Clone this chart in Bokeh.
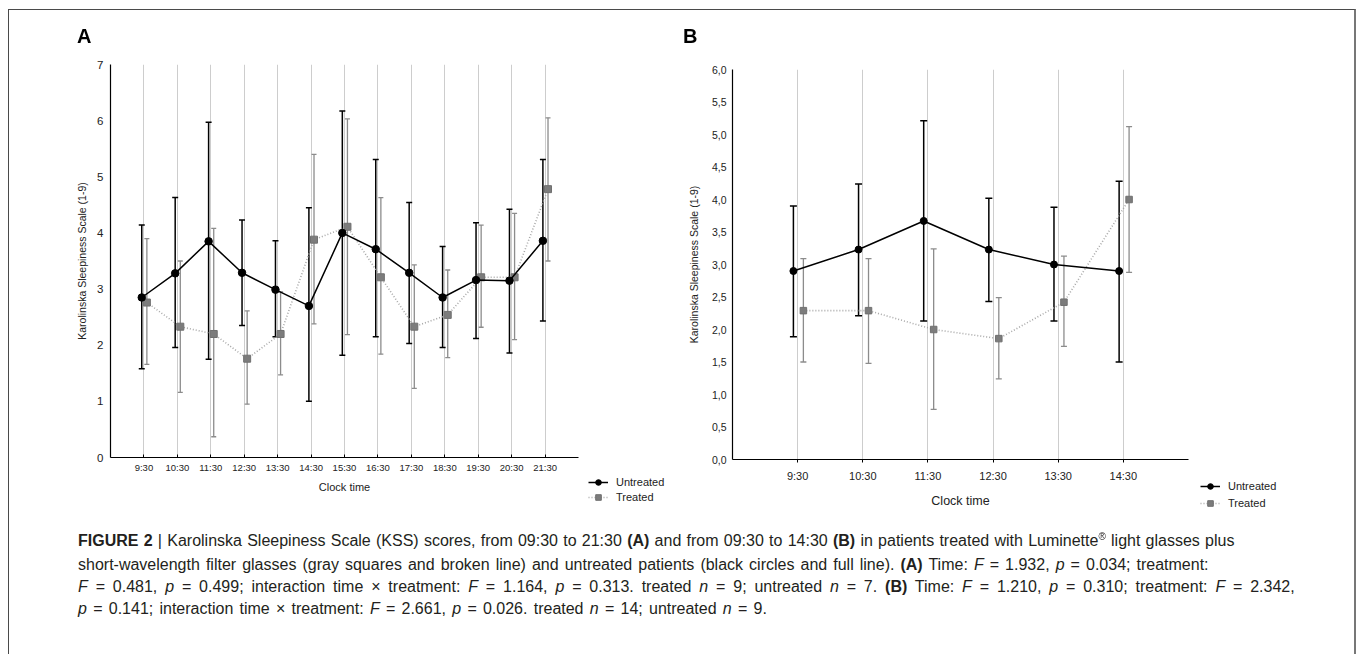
import numpy as np
from bokeh.plotting import figure
from bokeh.models import (ColumnDataSource, Whisker, TeeHead, Range1d, FixedTicker,
                          Legend, LegendItem, CustomJSTickFormatter, Div, Spacer)
from bokeh.layouts import column, row
from bokeh.embed import file_html
from bokeh.resources import INLINE

# ---------------- data ----------------
times_a = ["9:30", "10:30", "11:30", "12:30", "13:30", "14:30", "15:30",
           "16:30", "17:30", "18:30", "19:30", "20:30", "21:30"]
untreated_a = [2.85, 3.28, 3.85, 3.29, 2.99, 2.70, 4.00, 3.71, 3.29, 2.85, 3.16, 3.15, 3.86]
untreated_a_hi = [4.14, 4.63, 5.97, 4.23, 3.86, 4.45, 6.17, 5.31, 4.54, 3.76, 4.18, 4.42, 5.31]
untreated_a_lo = [1.58, 1.96, 1.75, 2.35, 2.15, 1.00, 1.82, 2.15, 2.03, 1.96, 2.12, 1.86, 2.43]
treated_a = [2.76, 2.33, 2.20, 1.76, 2.20, 3.88, 4.11, 3.21, 2.33, 2.54, 3.21, 3.21, 4.78]
treated_a_hi = [3.90, 3.50, 4.08, 2.61, 2.95, 5.40, 6.03, 4.63, 3.43, 3.34, 4.14, 4.35, 6.05]
treated_a_lo = [1.66, 1.16, 0.37, 0.95, 1.47, 2.38, 2.19, 1.84, 1.23, 1.78, 2.32, 2.10, 3.50]
yticks_a = [0, 1, 2, 3, 4, 5, 6, 7]

times_b = ["9:30", "10:30", "11:30", "12:30", "13:30", "14:30"]
untreated_b = [2.90, 3.23, 3.67, 3.23, 3.00, 2.90]
untreated_b_hi = [3.90, 4.24, 5.21, 4.02, 3.88, 4.28]
untreated_b_lo = [1.89, 2.21, 2.13, 2.43, 2.13, 1.50]
treated_b = [2.29, 2.29, 2.00, 1.86, 2.42, 4.00]
treated_b_hi = [3.09, 3.09, 3.24, 2.49, 3.13, 5.12]
treated_b_lo = [1.50, 1.48, 0.77, 1.24, 1.74, 2.88]
yticks_b = [0.0, 0.5, 1.0, 1.5, 2.0, 2.5, 3.0, 3.5, 4.0, 4.5, 5.0, 5.5, 6.0]

y_label = "Karolinska Sleepiness Scale (1-9)"
x_label = "Clock time"
series_names = ["Untreated", "Treated"]
panel_letters = ["A", "B"]

FONT = "Liberation Sans"
TXT = "#222222"
GRAY_BAR = "#8c8c8c"
U_LINE = dict(line_color="black", line_width=1.5)
T_LINE = dict(line_color="#a8a8a8", line_width=1.6, line_dash="1 2")
U_DOT = dict(marker="circle", fill_color="black", line_color="black")
T_SQ = dict(marker="square", fill_color="#7c7c7c", line_color="#707070")


def make_panel(times, um, uhi, ulo, tm, thi, tlo, yticks, ymax, cfg):
    n = len(times)
    idx = np.arange(1, n + 1)
    p = figure(width=cfg["w"], height=510, output_backend="svg", toolbar_location=None,
               x_range=Range1d(0, n + 1), y_range=Range1d(0, ymax),
               min_border_left=cfg["bl"], min_border_right=cfg["br"],
               min_border_top=cfg["bt"], min_border_bottom=cfg["bb"])
    p.frame_align = False
    p.outline_line_color = None
    p.background_fill_color = "white"
    p.border_fill_color = "white"
    p.ygrid.visible = False
    xt = FixedTicker(ticks=[int(i) for i in idx])
    p.xgrid.ticker = xt
    p.xgrid.grid_line_color = "#cdcdcd"
    p.xgrid.grid_line_width = 1

    xa = p.xaxis[0]
    xa.ticker = xt
    xa.major_label_overrides = {int(i): t for i, t in zip(idx, times)}
    xa.minor_tick_line_color = None
    xa.major_tick_in = cfg["xtin"]
    xa.major_tick_out = cfg["xtout"]
    xa.axis_line_color = "black"
    xa.axis_line_width = 1.2
    xa.major_label_text_font = FONT
    xa.major_label_text_font_size = cfg["xtick_fs"]
    xa.major_label_text_color = TXT
    xa.major_label_standoff = cfg["xstand"]
    xa.axis_label = x_label
    xa.axis_label_text_font = FONT
    xa.axis_label_text_font_size = cfg["xlab_fs"]
    xa.axis_label_text_font_style = "normal"
    xa.axis_label_text_color = TXT
    xa.axis_label_standoff = cfg["xlabstand"]

    ya = p.yaxis[0]
    ya.ticker = FixedTicker(ticks=yticks)
    ya.minor_tick_line_color = None
    ya.major_tick_in = 0
    ya.major_tick_out = 0
    ya.axis_line_color = "black"
    ya.axis_line_width = 1.2
    ya.major_label_text_font = FONT
    ya.major_label_text_font_size = cfg["ytick_fs"]
    ya.major_label_text_color = TXT
    ya.major_label_standoff = cfg["ystand"]
    if cfg["comma"]:
        ya.formatter = CustomJSTickFormatter(code="return tick.toFixed(1).replace('.', ',');")
    ya.axis_label = y_label
    ya.axis_label_text_font = FONT
    ya.axis_label_text_font_size = cfg["ylab_fs"]
    ya.axis_label_text_font_style = "normal"
    ya.axis_label_text_color = TXT
    ya.axis_label_standoff = cfg["ylabstand"]

    src_u = ColumnDataSource(dict(x=idx - 0.065, m=um, hi=uhi, lo=ulo))
    src_t = ColumnDataSource(dict(x=idx + 0.088, m=tm, hi=thi, lo=tlo))

    p.line("x", "m", source=src_t, **T_LINE)
    wt = Whisker(base="x", upper="hi", lower="lo", source=src_t, line_color=GRAY_BAR, line_width=1.3,
                 upper_head=TeeHead(size=cfg["cap_t"], line_color=GRAY_BAR, line_width=1.3),
                 lower_head=TeeHead(size=cfg["cap_t"], line_color=GRAY_BAR, line_width=1.3))
    p.add_layout(wt)
    p.scatter("x", "m", source=src_t, size=cfg["sq"], **T_SQ)

    p.line("x", "m", source=src_u, **U_LINE)
    wu = Whisker(base="x", upper="hi", lower="lo", source=src_u, line_color="black", line_width=1.5,
                 upper_head=TeeHead(size=cfg["cap_u"], line_color="black", line_width=1.5),
                 lower_head=TeeHead(size=cfg["cap_u"], line_color="black", line_width=1.5))
    p.add_layout(wu)
    p.scatter("x", "m", source=src_u, size=cfg["dot"], **U_DOT)
    return p


def make_legend(width, height, spacing, um, tm, dot, sq):
    # legend-only figure: proxies carry the series data, but the view range hides them
    idx = list(range(1, len(um) + 1))
    lf = figure(width=width, height=height, output_backend="svg", toolbar_location=None,
                x_range=Range1d(0, 1), y_range=Range1d(100, 101), min_border=0,
                x_axis_type=None, y_axis_type=None)
    lf.outline_line_color = None
    lf.grid.visible = False
    ul = lf.line(x=idx, y=um, **U_LINE)
    uv = lf.scatter(x=idx, y=um, marker="dash", angle=np.pi / 2, size=14,
                    line_color="black", line_width=1.5)
    ud = lf.scatter(x=idx, y=um, size=dot * 0.8, **U_DOT)
    tl = lf.line(x=idx, y=tm, **T_LINE)
    tv = lf.scatter(x=idx, y=tm, marker="dash", angle=np.pi / 2, size=14,
                    line_color=GRAY_BAR, line_width=1.3)
    td = lf.scatter(x=idx, y=tm, size=sq * 0.8, **T_SQ)
    legend = Legend(items=[LegendItem(label=series_names[0], renderers=[ul, uv, ud]),
                           LegendItem(label=series_names[1], renderers=[tl, tv, td])],
                    location="top_left", padding=0, margin=0, spacing=spacing,
                    glyph_width=20, glyph_height=14, label_height=14, label_standoff=8,
                    border_line_alpha=0, background_fill_alpha=0,
                    label_text_font=FONT, label_text_font_size="11px", label_text_color=TXT)
    lf.add_layout(legend)
    return lf


cfg_a = dict(w=580, bl=110, br=2, bt=64, bb=53, xtin=3, xtout=0, xtick_fs="9.5px", xstand=4,
             xlab_fs="11px", xlabstand=5, ytick_fs="11.5px", ystand=7, comma=False,
             ylab_fs="10.5px", ylabstand=6, cap_t=5, cap_u=6, sq=7, dot=7.5)
cfg_b = dict(w=512, bl=52, br=4, bt=69, bb=48, xtin=0, xtout=3, xtick_fs="11px", xstand=7,
             xlab_fs="12.5px", xlabstand=9, ytick_fs="10.5px", ystand=6, comma=True,
             ylab_fs="10.5px", ylabstand=9, cap_t=6, cap_u=7, sq=6.5, dot=7)

pA = make_panel(times_a, untreated_a, untreated_a_hi, untreated_a_lo,
                treated_a, treated_a_hi, treated_a_lo, yticks_a, 7, cfg_a)
pB = make_panel(times_b, untreated_b, untreated_b_hi, untreated_b_lo,
                treated_b, treated_b_hi, treated_b_lo, yticks_b, 6, cfg_b)
legA = make_legend(92, 35, 1, untreated_a, treated_a, cfg_a["dot"], cfg_a["sq"])
legB = make_legend(152, 31, 3, untreated_b, treated_b, cfg_b["dot"], cfg_b["sq"])

letter_css = ("position:fixed;top:26px;font-family:'Liberation Sans',Arial,sans-serif;"
              "font-size:20px;line-height:20px;font-weight:bold;color:#000")
caption_html = f"""
<div style="position:fixed;left:8px;top:9px;width:1348px;height:720px;border-top:1px solid #4a4a4a;border-left:1px solid #4a4a4a;border-right:2px solid #777;box-sizing:border-box;pointer-events:none"></div>
<div style="{letter_css};left:77px">{panel_letters[0]}</div>
<div style="{letter_css};left:683px">{panel_letters[1]}</div>
<div style="font-family:'Liberation Sans',Arial,sans-serif;font-size:16px;line-height:22px;color:#231f20;padding:15px 0 0 73px;white-space:nowrap">
<div style="word-spacing:0.8px"><b>FIGURE 2</b> | Karolinska Sleepiness Scale (KSS) scores, from 09:30 to 21:30 <b>(A)</b> and from 09:30 to 14:30 <b>(B)</b> in patients treated with Luminette<span style="font-size:10px;position:relative;top:-6px">&reg;</span> light glasses plus</div>
<div style="word-spacing:1.6px">short-wavelength filter glasses (gray squares and broken line) and untreated patients (black circles and full line). <b>(A)</b> Time: <i>F</i> = 1.932, <i>p</i> = 0.034; treatment:</div>
<div style="word-spacing:3.4px"><i>F</i> = 0.481, <i>p</i> = 0.499; interaction time &times; treatment: <i>F</i> = 1.164, <i>p</i> = 0.313. treated <i>n</i> = 9; untreated <i>n</i> = 7. <b>(B)</b> Time: <i>F</i> = 1.210, <i>p</i> = 0.310; treatment: <i>F</i> = 2.342,</div>
<div style="word-spacing:1.8px"><i>p</i> = 0.141; interaction time &times; treatment: <i>F</i> = 2.661, <i>p</i> = 0.026. treated <i>n</i> = 14; untreated <i>n</i> = 9.</div>
</div>
"""
caption = Div(text=caption_html, width=1352, height=130)

colA = column(Spacer(width=100, height=475), row(Spacer(width=8, height=35), legA))
colB = column(Spacer(width=160, height=479), row(Spacer(width=8, height=31), legB))
top = row(pA, colA, pB, colB)
layout = column(top, caption)
open("out.html", "w").write(file_html(layout, INLINE))
